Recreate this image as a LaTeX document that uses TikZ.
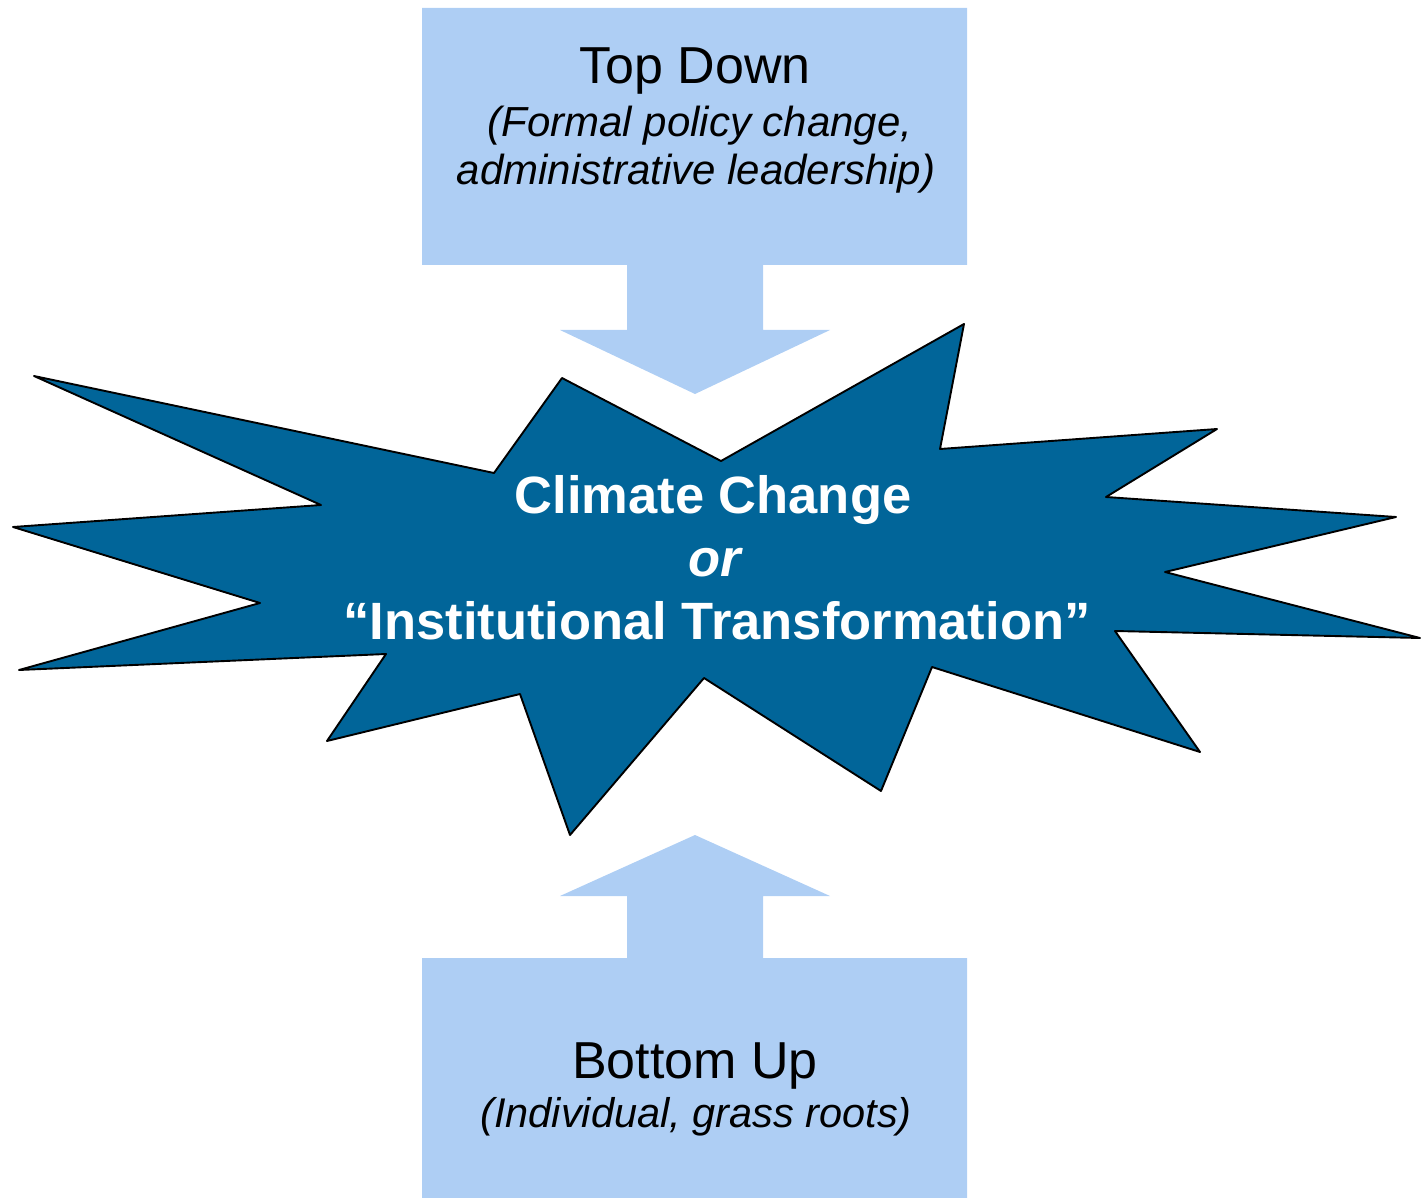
\documentclass[tikz,border=0pt]{standalone}
\usepackage{fontspec}
\setmainfont{Liberation Sans}
\definecolor{boxblue}{RGB}{174,206,244}
\definecolor{starblue}{RGB}{1,101,153}
\begin{document}
\begin{tikzpicture}[x=1pt,y=-1pt,
  panel/.style={fill=boxblue,draw=none},
  burst/.style={fill=starblue,draw=black,line width=1.9pt,line join=round},
  headtxt/.style={anchor=base,inner sep=0pt,font=\fontsize{52}{62}\selectfont},
  subtxt/.style={anchor=base,inner sep=0pt,font=\fontsize{42}{50}\selectfont\itshape},
  centertxt/.style={anchor=base,inner sep=0pt,text=white,font=\fontsize{52.5}{63}\selectfont\bfseries}]
\useasboundingbox (0,0) rectangle (1422,1198);
% top box with down arrow
\path[panel] (422,8) -- (967,8) -- (967,265) -- (763,265) -- (763,330) -- (830,330)
  -- (695,394) -- (560,330) -- (627,330) -- (627,265) -- (422,265) -- cycle;
% bottom box with up arrow
\path[panel] (422,1198) -- (967,1198) -- (967,958) -- (763,958) -- (763,896) -- (830,896)
  -- (695,835) -- (560,896) -- (627,896) -- (627,958) -- (422,958) -- cycle;
% explosion
\path[burst] (34,376) -- (494,473) -- (562,378) -- (721,461) -- (964,324) -- (940,449)
  -- (1217,429) -- (1106,497) -- (1396,517) -- (1165,572) -- (1420,638) -- (1115,631)
  -- (1200,752) -- (932,667) -- (881,791) -- (704,678) -- (570,835) -- (520,694)
  -- (327,741) -- (386,654) -- (19,670) -- (260,603) -- (13,527) -- (321,505) -- cycle;
% texts
\node[headtxt] (topT) at (695,84) {Top Down};
\node[subtxt] (topS1) at (700,137) {(Formal policy change,};
\node[subtxt] (topS2) at (696,185) {administrative leadership)};
\node[headtxt] (botT) at (695,1078) {Bottom Up};
\node[subtxt,font=\fontsize{41.5}{50}\selectfont\itshape] (botS) at (696,1127) {(Individual, grass roots)};
\node[centertxt] (c1) at (713,513) {Climate Change};
\node[centertxt,font=\fontsize{52.5}{63}\selectfont\bfseries\itshape] (c2) at (715,576) {or};
\node[centertxt] (c3) at (717,639) {“Institutional Transformation”};
\end{tikzpicture}
\end{document}
